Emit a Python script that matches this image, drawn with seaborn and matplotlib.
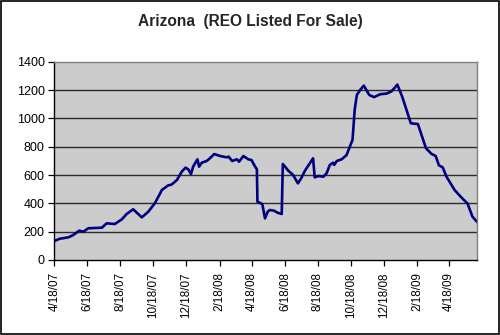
import matplotlib
matplotlib.use("Agg")
import matplotlib.pyplot as plt
from matplotlib.patches import Rectangle
import seaborn as sns
import pandas as pd

dates = [
    "2007-04-18", "2007-04-28", "2007-05-14", "2007-05-23", "2007-06-03", "2007-06-11",
    "2007-06-20", "2007-07-15", "2007-07-24", "2007-08-08", "2007-08-21", "2007-08-30",
    "2007-09-11", "2007-09-27", "2007-10-09", "2007-10-21", "2007-10-31", "2007-11-03",
    "2007-11-15", "2007-11-21", "2007-12-01", "2007-12-10", "2007-12-17", "2007-12-22",
    "2007-12-27", "2007-12-31", "2008-01-08", "2008-01-11", "2008-01-16", "2008-01-25",
    "2008-01-29", "2008-02-08", "2008-02-19", "2008-03-02", "2008-03-06", "2008-03-12",
    "2008-03-21", "2008-03-25", "2008-04-02", "2008-04-11", "2008-04-17", "2008-04-23",
    "2008-04-27", "2008-04-28", "2008-05-07", "2008-05-12", "2008-05-17", "2008-05-21",
    "2008-05-29", "2008-06-04", "2008-06-12", "2008-06-14", "2008-06-24", "2008-07-03",
    "2008-07-12", "2008-07-18", "2008-07-25", "2008-08-03", "2008-08-09", "2008-08-12",
    "2008-08-19", "2008-08-28", "2008-09-03", "2008-09-09", "2008-09-15", "2008-09-17",
    "2008-09-22", "2008-10-01", "2008-10-10", "2008-10-16", "2008-10-21", "2008-10-25",
    "2008-10-29", "2008-11-04", "2008-11-11", "2008-11-21", "2008-11-30", "2008-12-11",
    "2008-12-23", "2009-01-01", "2009-01-12", "2009-01-21", "2009-02-06", "2009-02-19",
    "2009-03-06", "2009-03-16", "2009-03-24", "2009-03-30", "2009-04-06", "2009-04-13",
    "2009-04-28", "2009-05-11", "2009-05-22", "2009-05-31", "2009-06-09",
]
listed = [
    134, 150, 160, 176, 207, 200,
    224, 228, 259, 254, 287, 325,
    358, 301, 341, 400, 471, 494,
    527, 532, 565, 624, 652, 640,
    607, 659, 711, 659, 687, 699,
    711, 748, 734, 725, 729, 699,
    711, 694, 734, 711, 706, 664,
    640, 412, 395, 294, 341, 353,
    348, 334, 325, 678, 631, 600,
    541, 577, 631, 683, 718, 584,
    593, 588, 612, 671, 687, 671,
    699, 711, 741, 800, 847, 1059,
    1165, 1200, 1231, 1165, 1150, 1170,
    1175, 1190, 1238, 1153, 965, 960,
    789, 750, 734, 668, 654, 588,
    494, 440, 398, 306, 267,
]
tick_dates = ["2007-04-18", "2007-06-18", "2007-08-18", "2007-10-18", "2007-12-18",
              "2008-02-18", "2008-04-18", "2008-06-18", "2008-08-18", "2008-10-18",
              "2008-12-18", "2009-02-18", "2009-04-18"]
tick_labels = ["4/18/07", "6/18/07", "8/18/07", "10/18/07", "12/18/07", "2/18/08",
               "4/18/08", "6/18/08", "8/18/08", "10/18/08", "12/18/08", "2/18/09", "4/18/09"]
y_ticks = [0, 200, 400, 600, 800, 1000, 1200, 1400]
title = "Arizona  (REO Listed For Sale)"

sns.set_style("white")
plt.rcParams["font.family"] = ["Liberation Sans", "DejaVu Sans"]

df = pd.DataFrame({"date": pd.to_datetime(dates), "listed": listed})

fig = plt.figure(figsize=(5.0, 3.35), dpi=100)
ax = fig.add_axes([0.1086, 0.2239, 0.9546 - 0.1086, 0.8158 - 0.2239])
ax.set_facecolor("#CCCCCC")

sns.lineplot(data=df, x="date", y="listed", ax=ax, color="#000080", linewidth=1.9)

ax.set_xlim(df["date"].iloc[0], df["date"].iloc[-1])
ax.set_ylim(0, 1400)
ax.set_yticks(y_ticks)
ax.set_yticklabels([str(v) for v in y_ticks], fontsize=9)
ax.set_xticks(pd.to_datetime(tick_dates))
ax.set_xticklabels(tick_labels, rotation=90, fontsize=8.4)
ax.set_xlabel("")
ax.set_ylabel("")

for v in y_ticks[1:-1]:
    ax.axhline(v, color="#2A2A2A", linewidth=1.0, zorder=1)

for side in ["top", "right"]:
    ax.spines[side].set_color("#808080")
    ax.spines[side].set_linewidth(1.0)
for side in ["left", "bottom"]:
    ax.spines[side].set_color("black")
    ax.spines[side].set_linewidth(1.0)
    ax.spines[side].set_visible(True)

ax.tick_params(axis="y", which="major", direction="out", length=4, width=0.9,
               color="black", labelcolor="black", pad=3, left=True)
ax.tick_params(axis="x", which="major", direction="out", length=4, width=0.9,
               color="black", labelcolor="black", pad=5, bottom=True)

fig.suptitle(title, fontsize=11.2, fontweight="bold", x=0.5, y=0.958)
fig.patches.append(Rectangle((0.002, 0.003), 0.995, 0.994, transform=fig.transFigure,
                             fill=False, edgecolor="black", linewidth=1.2))

fig.savefig("out.png", dpi=100)
